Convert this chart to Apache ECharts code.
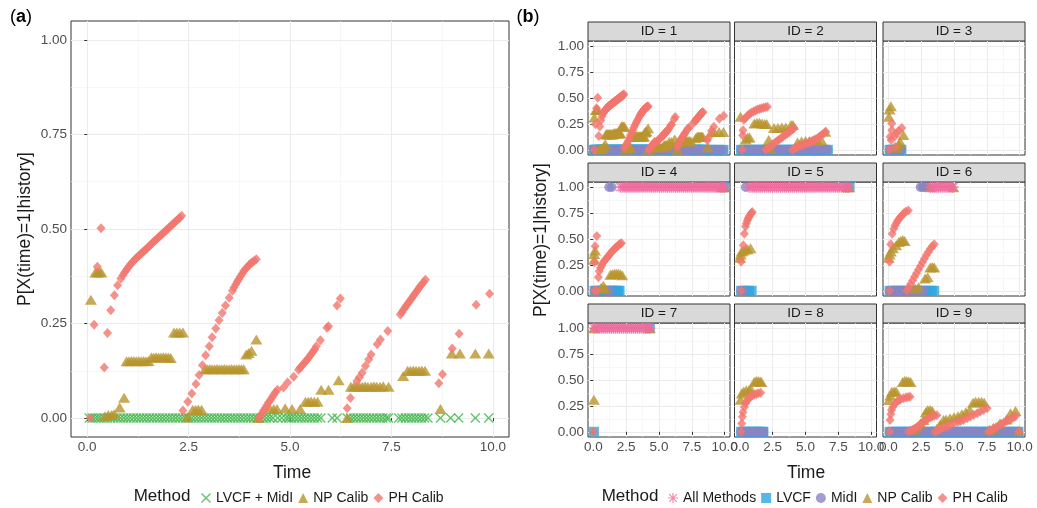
<!DOCTYPE html>
<html>
<head>
<meta charset="utf-8">
<script src="https://cdn.jsdelivr.net/npm/echarts@6/dist/echarts.min.js"></script>
<style>
html, body { margin: 0; padding: 0; background: #fff; }
#chart { width: 1037px; height: 508px; }
</style>
</head>
<body>
<div id="chart"></div>
<script>
// tick values
const majorX = [0, 2.5, 5, 7.5, 10];
const minorX = [1.25, 3.75, 6.25, 8.75];
const majorY = [0, 0.25, 0.5, 0.75, 1];
const minorY = [0.125, 0.375, 0.625, 0.875];

// panel (a) = facet ID 1
const lvcfTimesA = [0.05,0.12,0.2,0.27,0.34,0.42,0.5,0.58,0.66,0.74,0.82,0.9,0.98,1.06,1.14,1.22,1.3,1.38,1.46,1.54,1.62,1.7,1.78,1.86,1.94,2.02,2.1,2.18,2.26,2.34,2.42,2.5,2.58,2.66,2.74,2.82,2.9,2.98,3.06,3.14,3.22,3.3,3.38,3.46,3.54,3.62,3.7,3.78,3.86,3.94,4.02,4.1,4.18,4.26,4.34,4.42,4.5,4.58,4.7,4.8,4.9,4.97,5.04,5.12,5.2,5.28,5.36,5.44,5.52,5.6,5.68,5.76,6.04,6.16,6.41,6.49,6.57,6.65,6.73,6.81,6.89,6.97,7.05,7.13,7.21,7.29,7.37,7.43,7.68,7.76,7.84,7.92,8.0,8.08,8.16,8.24,8.32,8.4,8.71,8.96,9.16,9.57,9.9];

const phA = [[0.07,0],[0.17,0.247],[0.25,0.40],[0.34,0.502],[0.42,0.134],[0.5,0.225],[0.58,0.285],[0.67,0.325],[0.75,0.351],[0.83,0.369],
  [0.88,0.378],[0.92,0.385],[0.96,0.391],[1.0,0.397],[1.04,0.403],[1.08,0.408],[1.12,0.413],[1.16,0.418],[1.2,0.422],[1.24,0.426],[1.28,0.43],[1.32,0.434],[1.36,0.438],[1.4,0.442],[1.44,0.446],[1.48,0.45],[1.52,0.454],[1.56,0.458],[1.6,0.462],[1.64,0.466],[1.68,0.47],[1.72,0.474],[1.76,0.478],[1.8,0.482],[1.84,0.486],[1.88,0.49],[1.92,0.494],[1.96,0.498],[2.0,0.502],[2.04,0.506],[2.08,0.51],[2.12,0.514],[2.16,0.518],[2.2,0.522],[2.24,0.526],[2.28,0.53],[2.33,0.535],
  [2.36,0.02],[2.48,0.043],[2.58,0.065],[2.68,0.09],[2.76,0.114],[2.84,0.14],[2.92,0.166],[3.01,0.19],[3.08,0.214],[3.17,0.237],[3.25,0.259],[3.33,0.278],[3.41,0.298],[3.5,0.318],[3.58,0.337],[3.62,0.345],[3.66,0.353],[3.7,0.361],[3.74,0.368],[3.78,0.375],[3.82,0.382],[3.86,0.389],[3.91,0.395],[3.95,0.4],[3.99,0.405],[4.03,0.409],[4.07,0.412],[4.12,0.416],[4.17,0.42],
  [4.23,0],[4.27,0.006],[4.31,0.013],[4.35,0.02],[4.39,0.027],[4.43,0.034],[4.47,0.041],[4.52,0.048],[4.56,0.055],[4.6,0.062],[4.64,0.068],[4.69,0.075],[4.84,0.081],[4.94,0.094],[5.09,0.109],[5.21,0.128],[5.25,0.133],[5.29,0.138],[5.33,0.143],[5.37,0.148],[5.41,0.153],[5.45,0.158],[5.49,0.164],[5.53,0.17],[5.57,0.176],[5.61,0.182],[5.65,0.19],[5.75,0.206],[5.91,0.239],[5.95,0.243],[6.16,0.298],[6.24,0.316],
  [6.41,0.026],[6.49,0.053],[6.65,0.098],[6.71,0.108],[6.78,0.12],[6.86,0.138],[6.94,0.155],[7.0,0.168],[7.15,0.195],[7.23,0.208],[7.41,0.23],
  [7.72,0.274],[7.76,0.28],[7.8,0.287],[7.84,0.293],[7.88,0.299],[7.92,0.305],[7.96,0.311],[8.0,0.317],[8.04,0.323],[8.08,0.329],[8.12,0.335],[8.16,0.341],[8.2,0.347],[8.24,0.352],[8.29,0.359],[8.34,0.366],
  [8.67,0.092],[8.76,0.116],[9.0,0.184],[9.17,0.223],[9.59,0.30],[9.92,0.329]];

const npA = [[0.09,0.313],[0.2,0.385],[0.25,0.385],[0.3,0.387],[0.35,0.385],
  [0.44,0.005],[0.52,0.008],[0.6,0.008],[0.66,0.01],[0.8,0.028],[0.91,0.054],
  [0.97,0.15],[1.03,0.15],[1.09,0.151],[1.15,0.151],[1.21,0.15],[1.27,0.151],[1.33,0.15],[1.39,0.151],[1.45,0.15],[1.51,0.151],
  [1.58,0.16],[1.64,0.16],[1.7,0.161],[1.76,0.16],[1.82,0.16],[1.88,0.161],[1.94,0.16],[2.0,0.16],[2.06,0.159],
  [2.14,0.226],[2.21,0.226],[2.28,0.226],[2.36,0.226],[2.47,0.002],
  [2.6,0.022],[2.67,0.022],[2.74,0.023],[2.82,0.022],
  [2.9,0.129],[2.96,0.129],[3.02,0.13],[3.08,0.129],[3.14,0.129],[3.2,0.13],[3.26,0.129],[3.32,0.129],[3.38,0.13],[3.44,0.129],[3.5,0.129],[3.56,0.13],[3.62,0.129],[3.68,0.129],[3.74,0.13],[3.8,0.129],[3.86,0.129],
  [3.92,0.168],[3.98,0.172],[4.05,0.178],[4.17,0.208],[4.23,0.0],
  [4.51,0.024],[4.6,0.024],[4.68,0.024],[4.88,0.026],[5.05,0.024],[5.25,0.024],
  [5.38,0.043],[5.45,0.043],[5.52,0.044],[5.6,0.043],[5.68,0.043],
  [5.77,0.075],[5.95,0.075],[6.2,0.10],[6.41,0.0],
  [6.5,0.083],[6.57,0.083],[6.64,0.084],[6.71,0.083],[6.78,0.083],[6.85,0.084],[6.92,0.083],[7.0,0.083],[7.07,0.084],[7.14,0.083],[7.22,0.083],[7.3,0.084],[7.43,0.083],
  [7.79,0.111],[7.9,0.125],[7.97,0.125],[8.04,0.126],[8.11,0.125],[8.18,0.125],[8.25,0.126],[8.33,0.125],
  [8.71,0.024],[8.99,0.171],[9.19,0.171],[9.57,0.171],[9.9,0.171]];

// facet ID 2
const band2 = [0.1,0.3,0.5,0.7,0.9,1.1,1.3,1.5,1.7,1.9,2.1,2.3,2.5,2.7,2.9,3.1,3.3,3.5,3.7,3.9,4.1,4.3,4.5,4.7,4.9,5.1,5.3,5.5,5.7,5.9,6.1,6.3,6.5,6.7];
const ph2 = [[0.19,0],[0.22,0.14],[0.25,0.19],[0.31,0.29],[0.45,0.31],[0.6,0.33],[0.75,0.345],[0.9,0.36],[1.05,0.37],[1.2,0.38],[1.35,0.39],[1.5,0.395],[1.65,0.4],[1.8,0.405],[1.95,0.41],[2.1,0.416],
  [1.97,0],[2.1,0.012],[2.25,0.027],[2.4,0.042],[2.55,0.057],[2.7,0.071],[2.85,0.086],[3.0,0.1],[3.15,0.114],[3.3,0.128],[3.45,0.142],[3.6,0.156],[3.75,0.17],[3.9,0.185],[4.05,0.2],[4.13,0.21],
  [4.0,0],[4.15,0.012],[4.3,0.024],[4.45,0.033],[4.6,0.04],[4.75,0.047],[4.9,0.054],[5.05,0.06],[5.2,0.066],[5.35,0.075],[5.5,0.085],[5.65,0.095],[5.8,0.105],[5.95,0.115],[6.1,0.13],[6.25,0.145],[6.4,0.16],[6.55,0.175]];
const np2 = [[0.06,0.32],[0.45,0.1],[0.6,0.12],[0.75,0.12],[1.1,0.255],[1.3,0.26],[1.5,0.26],[1.7,0.255],[1.9,0.25],[2.05,0.25],[2.2,0.095],[2.35,0.01],[2.6,0.21],[2.9,0.21],[3.2,0.215],[3.5,0.215],[3.9,0.24],[4.05,0.24],[4.4,0.07],[4.7,0.08],[5.0,0.085],[5.3,0.085],[5.6,0.09],[5.9,0.085],[6.2,0.095],[6.5,0.175]];

// facet ID 3
const band3 = [0.1,0.25,0.4,0.55,0.7,0.85,1.0];
const ph3 = [[0.05,0],[0.14,0.127],[0.22,0.095],[0.27,0.19],[0.27,0.255],[0.52,0.03],[0.5,0.13],[0.65,0.16],[0.8,0.185],[1.03,0.21]];
const np3 = [[0.05,0.32],[0.1,0.39],[0.2,0.42],[0.6,0.02],[0.8,0.05],[0.9,0.078],[1.15,0.143]];

// facet ID 4
const lvcf4 = [0.1,0.25,0.4,0.55,0.7,0.85,1.0,1.15,1.3,1.45,1.6,1.75,1.9,2.0];
const midi4 = [0.1,0.3,1.0,1.28];
const midiOne4 = [1.2,1.41];
const lvcfOne4 = [10.0];
const npOne4 = [9.75,9.95];
const all4 = [2.05,2.2,2.35,2.5,2.65,2.8,2.95,3.1,3.25,3.4,3.55,3.7,3.85,4.0,4.15,4.3,4.45,4.6,4.75,4.9,5.05,5.2,5.35,5.5,5.65,5.8,5.95,6.1,6.25,6.4,6.55,6.7,6.85,7.0,7.15,7.3,7.45,7.6,7.75,7.9,8.05,8.2,8.35,8.5,8.65,8.8,8.95,9.1,9.25,9.4,9.55,9.7,9.85,10.0];
const ph4 = [[0.1,0],[0.3,0],[0.27,0.53],[0.14,0.43],[0.1,0.275],[0.39,0.13],[0.45,0.19],[0.55,0.22],[0.65,0.245],[0.75,0.27],[0.85,0.29],[0.95,0.305],[1.05,0.32],[1.15,0.335],[1.25,0.35],[1.35,0.37],[1.45,0.385],[1.55,0.395],[1.65,0.41],[1.75,0.42],[1.85,0.43],[1.95,0.445],[2.05,0.455],[2.15,0.46]];
const np4 = [[0.07,0.3],[0.07,0.355],[0.14,0.39],[0.6,0.03],[0.77,0.05],[0.9,0.02],[1.3,0.155],[1.45,0.16],[1.6,0.165],[1.75,0.165],[1.9,0.165],[2.05,0.16],[2.2,0.15]];

// facet ID 5
const lvcf5 = [0.1,0.3,0.5,0.7,0.9];
const midi5 = [0.1,0.3];
const midiOne5 = [0.45];
const lvcfOne5 = [8.35];
const npOne5 = [8.15,8.3];
const all5 = [0.7,0.85,1.0,1.15,1.3,1.45,1.6,1.75,1.9,2.05,2.2,2.35,2.5,2.65,2.8,2.95,3.1,3.25,3.4,3.55,3.7,3.85,4.0,4.15,4.3,4.45,4.6,4.75,4.9,5.05,5.2,5.35,5.5,5.65,5.8,5.95,6.1,6.25,6.4,6.55,6.7,6.85,7.0,7.15,7.3,7.45,7.6,7.75,7.9,8.05,8.2,8.3];
const ph5 = [[0.1,0],[0.1,0.28],[0.27,0.44],[0.35,0.55],[0.44,0.62],[0.5,0.65],[0.57,0.675],[0.63,0.695],[0.69,0.71],[0.76,0.725],[0.83,0.74],[0.89,0.75],[0.95,0.76]];
const np5 = [[0.02,0.32],[0.08,0.35],[0.15,0.38],[0.3,0.39],[0.44,0.4],[0.6,0.4],[0.82,0.41]];

// facet ID 6
const lvcf6 = [0.1,0.3,0.5,0.7,0.9,1.1,1.3,1.5,1.7,1.9,2.1,2.3,2.5,2.7,2.9,3.1,3.3,3.5];
const midi6 = [0.1,0.3,0.5,0.7,0.9,1.1,1.3,1.5,1.7,1.9,2.1,2.3,2.5,2.7];
const midiOne6 = [2.45,2.6,2.75,2.9];
const npOne6 = [3.2,4.95];
const all6 = [3.2,3.35,3.5,3.65,3.8,3.95,4.1,4.25,4.4,4.55,4.7,4.85,4.95];
const ph6 = [[0.1,0],[0.1,0.28],[0.19,0.45],[0.3,0.55],[0.42,0.6],[0.52,0.63],[0.62,0.655],[0.72,0.675],[0.82,0.695],[0.92,0.71],[1.05,0.73],[1.2,0.75],[1.35,0.765],[1.53,0.775],
  [1.41,0],[1.55,0.03],[1.7,0.065],[1.85,0.1],[2.0,0.135],[2.15,0.17],[2.3,0.205],[2.45,0.24],[2.6,0.275],[2.75,0.31],[2.9,0.345],[3.05,0.375],[3.2,0.405],[3.35,0.43],[3.5,0.45]];
const np6 = [[0.02,0.32],[0.1,0.35],[0.2,0.38],[0.35,0.41],[0.6,0.44],[0.8,0.47],[0.95,0.48],[1.1,0.49],[1.25,0.48],[2.05,0.02],[2.3,0.034],[2.8,0.12],[3.0,0.13],[3.19,0.225],[3.35,0.23],[3.5,0.225]];

// facet ID 7
const lvcf7 = [0.05];
const lvcfOne7 = [4.3];
const npOne7 = [0.05,4.3];
const all7 = [0.05,0.2,0.35,0.5,0.65,0.8,0.95,1.1,1.25,1.4,1.55,1.7,1.85,2.0,2.15,2.3,2.45,2.6,2.75,2.9,3.05,3.2,3.35,3.5,3.65,3.8,3.95,4.1,4.25,4.3];
const ph7 = [[0.05,0]];
const np7 = [[0.05,0.31]];

// facet ID 8
const band8 = [0.1,0.25,0.4,0.55,0.7,0.85,1.0,1.15,1.3,1.45,1.6,1.75,1.8];
const ph8 = [[0.1,0],[0.15,0.08],[0.2,0.145],[0.25,0.19],[0.35,0.24],[0.45,0.275],[0.55,0.3],[0.69,0.32],[0.82,0.34],[0.95,0.35],[1.1,0.36],[1.25,0.365],[1.4,0.372],[1.59,0.377]];
const np8 = [[0.06,0.31],[0.15,0.37],[0.3,0.39],[0.5,0.4],[0.7,0.4],[0.85,0.41],[1.1,0.48],[1.25,0.49],[1.4,0.49],[1.55,0.485],[1.65,0.48]];

// facet ID 9
const band9 = [0.1,0.3,0.5,0.7,0.9,1.1,1.3,1.5,1.7,1.9,2.1,2.3,2.5,2.7,2.9,3.1,3.3,3.5,3.7,3.9,4.1,4.3,4.5,4.7,4.9,5.1,5.3,5.5,5.7,5.9,6.1,6.3,6.5,6.7,6.9,7.1,7.3,7.5,7.7,7.9,8.1,8.3,8.5,8.7,8.9,9.1,9.3,9.5,9.7,9.9];
const ph9 = [[0.1,0],[0.14,0.114],[0.2,0.17],[0.25,0.21],[0.35,0.24],[0.5,0.27],[0.65,0.29],[0.8,0.305],[0.95,0.315],[1.15,0.323],[1.35,0.33],[1.5,0.335],[1.66,0.339],
  [1.53,0],[1.7,0.01],[1.85,0.02],[2.0,0.03],[2.15,0.042],[2.3,0.055],[2.45,0.07],[2.6,0.085],[2.75,0.1],[2.9,0.115],[3.05,0.13],[3.2,0.14],[3.35,0.15],[3.5,0.155],[3.7,0.16],
  [3.57,0],[3.7,0.01],[3.85,0.02],[4.0,0.03],[4.2,0.04],[4.47,0.05],[4.7,0.065],[5.0,0.08],[5.3,0.095],[5.5,0.105],[5.73,0.114],[6.0,0.13],[6.25,0.148],[6.5,0.165],[6.76,0.178],[7.0,0.195],[7.25,0.21],[7.52,0.227],
  [7.64,0],[7.8,0.015],[8.0,0.03],[8.2,0.045],[8.4,0.06],[8.6,0.075],[8.8,0.09],[9.0,0.105],[9.2,0.115],[9.4,0.13],[9.55,0.14],[9.68,0.15],[9.93,0]];
const np9 = [[0.06,0.307],[0.15,0.35],[0.27,0.387],[0.45,0.39],[0.6,0.39],[1.1,0.48],[1.25,0.49],[1.4,0.49],[1.55,0.485],[1.7,0.48],[2.0,0.02],[2.2,0.05],[2.45,0.08],[2.68,0.114],[2.85,0.19],[3.0,0.21],[3.19,0.21],[3.35,0.2],[3.7,0.03],[3.95,0.07],[4.2,0.114],[4.4,0.12],[4.7,0.13],[5.0,0.14],[5.3,0.15],[5.6,0.17],[5.9,0.19],[6.2,0.21],[6.45,0.28],[6.65,0.29],[6.88,0.29],[7.1,0.29],[7.3,0.28],[7.7,0.02],[8.0,0.04],[8.5,0.08],[9.0,0.12],[9.3,0.178],[9.68,0.2],[9.93,0.01]];

const facets = [
  { id: 1, lvcf0: lvcfTimesA, midi0: lvcfTimesA, np: npA, ph: phA },
  { id: 2, lvcf0: band2, midi0: band2, np: np2, ph: ph2 },
  { id: 3, lvcf0: band3, midi0: band3, np: np3, ph: ph3 },
  { id: 4, lvcf0: lvcf4, midi0: midi4, midi1: midiOne4, lvcf1: lvcfOne4, np1: npOne4, all: all4, np: np4, ph: ph4 },
  { id: 5, lvcf0: lvcf5, midi0: midi5, midi1: midiOne5, lvcf1: lvcfOne5, np1: npOne5, all: all5, np: np5, ph: ph5 },
  { id: 6, lvcf0: lvcf6, midi0: midi6, midi1: midiOne6, np1: npOne6, all: all6, np: np6, ph: ph6 },
  { id: 7, lvcf0: lvcf7, lvcf1: lvcfOne7, np1: npOne7, all: all7, np: np7, ph: ph7 },
  { id: 8, lvcf0: band8, midi0: band8, np: np8, ph: ph8 },
  { id: 9, lvcf0: band9, midi0: band9, np: np9, ph: ph9 }
];

const C = {
  all: '#f06a9f', lvcf: '#2ea6df', midi: '#8884c4',
  np: '#b8952e', ph: '#f3766e', green: '#3db54a'
};
const FONT = 'Liberation Sans, Arial, Helvetica, sans-serif';
const X_SYM = 'path://M0,1L1,0L5,4L9,0L10,1L6,5L10,9L9,10L5,6L1,10L0,9L4,5Z';
const STAR_SYM = 'path://M4.4,0L5.6,0L5.6,10L4.4,10Z M0,4.4L10,4.4L10,5.6L0,5.6Z M0.8,1.6L1.6,0.8L9.2,8.4L8.4,9.2Z M8.4,0.8L9.2,1.6L1.6,9.2L0.8,8.4Z';
const TRI_SIZE = [12, 10], DIA_SIZE = [9, 10];

function pts(times, v) {
  return (times || []).map(t => [t, v]);
}

function xAxes(gi, show) {
  return [{
    type: 'value', gridIndex: gi, min: -0.4, max: 10.4, position: 'bottom',
    axisLine: { show: false },
    axisTick: { show: show, length: 3, lineStyle: { color: '#333' }, customValues: majorX },
    axisLabel: { show: show, customValues: majorX, formatter: v => v.toFixed(1),
      color: '#4d4d4d', fontSize: 13.5, margin: 3, fontFamily: FONT },
    splitLine: { show: true, lineStyle: { color: '#ebebeb', width: 1 } }
  }, {
    type: 'value', gridIndex: gi, min: -0.4, max: 10.4, position: 'top',
    axisLine: { show: false },
    axisTick: { show: false, customValues: minorX },
    axisLabel: { show: false },
    splitLine: { show: true, lineStyle: { color: '#f2f2f2', width: 0.6 } }
  }];
}

function yAxes(gi, show) {
  return [{
    type: 'value', gridIndex: gi, min: -0.05, max: 1.05, position: 'left',
    axisLine: { show: false },
    axisTick: { show: show, length: 3, lineStyle: { color: '#333' }, customValues: majorY },
    axisLabel: { show: show, customValues: majorY, formatter: v => v.toFixed(2),
      color: '#4d4d4d', fontSize: 13.5, margin: 4, fontFamily: FONT },
    splitLine: { show: true, lineStyle: { color: '#ebebeb', width: 1 } }
  }, {
    type: 'value', gridIndex: gi, min: -0.05, max: 1.05, position: 'right',
    axisLine: { show: false },
    axisTick: { show: false, customValues: minorY },
    axisLabel: { show: false },
    splitLine: { show: true, lineStyle: { color: '#f2f2f2', width: 0.6 } }
  }];
}

const gridBase = { show: true, borderColor: '#333', borderWidth: 1, backgroundColor: '#fff', outerBoundsMode: 'none' };
const grids = [Object.assign({ left: 71, top: 21, width: 438, height: 416 }, gridBase)];
let xAxis = xAxes(0, true);
let yAxis = yAxes(0, true);
const series = [];
const graphic = [];

// panel (a)
series.push({
  name: 'LVCF + MidI', type: 'scatter', xAxisIndex: 0, yAxisIndex: 0,
  symbol: X_SYM, symbolSize: 10, itemStyle: { color: C.green },
  data: pts(lvcfTimesA, 0)
});
series.push({
  name: 'NP Calib', type: 'scatter', xAxisIndex: 0, yAxisIndex: 0,
  symbol: 'triangle', symbolSize: TRI_SIZE, itemStyle: { color: C.np },
  data: npA
});
series.push({
  name: 'PH Calib', type: 'scatter', xAxisIndex: 0, yAxisIndex: 0,
  symbol: 'diamond', symbolSize: DIA_SIZE, itemStyle: { color: C.ph },
  data: phA
});

// panel (b) facets
const colLeft = [588, 734.5, 883];
const rowTop = [41, 182, 323];
const PW = 142, PH = 114, STRIP = 19;

facets.forEach((f, k) => {
  const gi = k + 1;
  const col = k % 3, row = Math.floor(k / 3);
  grids.push(Object.assign({ left: colLeft[col], top: rowTop[row], width: PW, height: PH }, gridBase));
  xAxis = xAxis.concat(xAxes(gi, row === 2));
  yAxis = yAxis.concat(yAxes(gi, col === 0));
  const ax = { xAxisIndex: 2 * gi, yAxisIndex: 2 * gi };

  series.push(Object.assign({
    name: 'LVCF', type: 'scatter', symbol: 'rect', symbolSize: 10,
    itemStyle: { color: C.lvcf }, data: pts(f.lvcf0, 0).concat(pts(f.lvcf1, 1))
  }, ax));
  series.push(Object.assign({
    name: 'MidI', type: 'scatter', symbol: 'circle', symbolSize: 9.5,
    itemStyle: { color: C.midi }, data: pts(f.midi0, 0).concat(pts(f.midi1, 1))
  }, ax));
  series.push(Object.assign({
    name: 'NP Calib', type: 'scatter', symbol: 'triangle', symbolSize: TRI_SIZE,
    itemStyle: { color: C.np }, data: f.np.concat(pts(f.np1, 1))
  }, ax));
  series.push(Object.assign({
    name: 'PH Calib', type: 'scatter', symbol: 'diamond', symbolSize: DIA_SIZE,
    itemStyle: { color: C.ph }, data: f.ph
  }, ax));
  series.push(Object.assign({
    name: 'All Methods', type: 'scatter', symbol: STAR_SYM, symbolSize: 11,
    itemStyle: { color: C.all }, data: pts(f.all, 1)
  }, ax));

  // strip
  graphic.push({
    type: 'rect', silent: true,
    shape: { x: colLeft[col], y: rowTop[row] - STRIP, width: PW, height: STRIP },
    style: { fill: '#d9d9d9', stroke: '#333', lineWidth: 1 }
  });
  graphic.push({
    type: 'text', silent: true,
    x: colLeft[col] + PW / 2, y: rowTop[row] - STRIP / 2,
    style: { text: 'ID = ' + f.id, fill: '#1a1a1a', fontSize: 13.5, fontFamily: FONT,
      align: 'center', verticalAlign: 'middle' }
  });
});

// titles and axis titles
const txt = (x, y, text, size, extra) => ({
  type: 'text', silent: true, x: x, y: y,
  style: Object.assign({ text: text, fill: '#000', fontSize: size, fontFamily: FONT,
    align: 'center', verticalAlign: 'middle' }, extra || {})
});

const boldRich = { rich: { b: { fontWeight: 'bold', fontSize: 18, fontFamily: FONT } } };
graphic.push(txt(21, 17, '({b|a})', 18, boldRich));
graphic.push(txt(528, 17, '({b|b})', 18, boldRich));
graphic.push(txt(292, 473, 'Time', 17.5, { fill: '#1a1a1a' }));
graphic.push(txt(806, 473, 'Time', 17.5, { fill: '#1a1a1a' }));
const ya = txt(25, 229, 'P[X(time)=1|history]', 17.5, { fill: '#1a1a1a' });
ya.rotation = Math.PI / 2;
graphic.push(ya);
const yb = txt(541, 240, 'P[X(time)=1|history]', 17.5, { fill: '#1a1a1a' });
yb.rotation = Math.PI / 2;
graphic.push(yb);
graphic.push(txt(162, 496, 'Method', 17, { fill: '#1a1a1a' }));
graphic.push(txt(630, 496, 'Method', 17, { fill: '#1a1a1a' }));

const legendText = { fontSize: 14, color: '#1a1a1a', fontFamily: FONT };
const chart = echarts.init(document.getElementById('chart'));
chart.setOption({
  animation: false,
  backgroundColor: '#fff',
  textStyle: { fontFamily: FONT },
  grid: grids,
  xAxis: xAxis,
  yAxis: yAxis,
  legend: [{
    data: ['LVCF + MidI', 'NP Calib', 'PH Calib'],
    left: 196, top: 486, itemWidth: 10, itemHeight: 10, itemGap: 5,
    selectedMode: false, textStyle: legendText
  }, {
    data: ['All Methods', 'LVCF', 'MidI', 'NP Calib', 'PH Calib'],
    left: 663, top: 486, itemWidth: 10, itemHeight: 10, itemGap: 5,
    selectedMode: false, textStyle: legendText
  }],
  graphic: graphic,
  series: series
});
</script>
</body>
</html>
